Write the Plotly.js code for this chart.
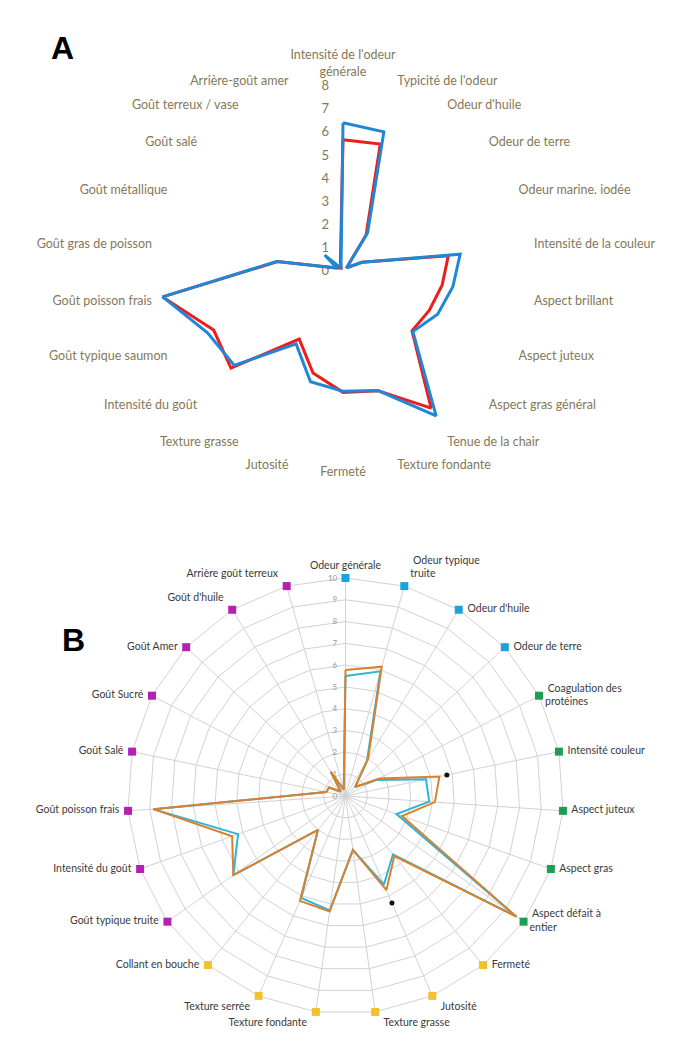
<!DOCTYPE html>
<html>
<head>
<meta charset="utf-8">
<script src="https://cdn.plot.ly/plotly-3.0.1.min.js"></script>
<style>html,body{margin:0;padding:0;background:#fff;}#chart{width:696px;height:1054px;}</style>
</head>
<body>
<div id="chart"></div>
<script>
// ---------- Chart A data ----------
const categoriesA = ["Intensité de l'odeur<br>générale", "Typicité de l'odeur", "Odeur d'huile", "Odeur de terre",
  "Odeur marine. iodée", "Intensité de la couleur", "Aspect brillant", "Aspect juteux", "Aspect gras général",
  "Tenue de la chair", "Texture fondante", "Fermeté", "Jutosité", "Texture grasse", "Intensité du goût",
  "Goût typique saumon", "Goût poisson frais", "Goût gras de poisson", "Goût métallique", "Goût salé",
  "Goût terreux / vase", "Arrière-goût amer"];
const redA  = [5.68, 5.72, 1.85, 0.2, 0.9, 4.6, 4.33, 4.1, 3.95, 7.05, 5.4, 5.25, 4.6, 3.5, 6.41, 6.15, 7.88, 2.85, 0.3, 0.2, 0.15, 0.4];
const blueA = [6.41, 6.27, 1.97, 0.2, 0.9, 5.12, 4.8, 4.5, 4.0, 7.45, 5.39, 5.2, 4.99, 3.75, 6.23, 6.44, 7.88, 2.9, 0.3, 1.05, 0.15, 0.3];
const radialTicksA = [0, 1, 2, 3, 4, 5, 6, 7, 8];

// ---------- Chart B data ----------
const categoriesB = ["Odeur générale", "Odeur typique<br>truite", "Odeur d'huile", "Odeur de terre",
  "Coagulation des<br>protéines", "Intensité couleur", "Aspect juteux", "Aspect gras", "Aspect défait à<br>entier",
  "Fermeté", "Jutosité", "Texture grasse", "Texture fondante", "Texture serrée", "Collant en bouche",
  "Goût typique truite", "Intensité du goût", "Goût poisson frais", "Goût Salé", "Goût Sucré", "Goût Amer",
  "Goût d'huile", "Arrière goût terreux"];
const groupB = ["odeur","odeur","odeur","odeur","aspect","aspect","aspect","aspect","aspect",
  "texture","texture","texture","texture","texture","texture",
  "gout","gout","gout","gout","gout","gout","gout","gout"];
const orangeB = [5.78, 6.16, 2.0, 0.6, 1.75, 4.4, 4.11, 2.75, 9.6, 3.55, 4.71, 2.5, 5.35, 5.25, 2.0, 6.3, 5.52, 8.84, 0.9, 0.85, 0.3, 1.3, 0.3];
const cyanB   = [5.5, 5.94, 1.9, 0.6, 1.6, 3.77, 3.85, 2.48, 9.6, 3.45, 4.43, 2.5, 5.3, 5.1, 2.0, 6.3, 5.23, 8.84, 0.9, 0.85, 0.3, 1.3, 0.3];
const scaleMaxB = 10;
const sigCatsB = ["Intensité couleur", "Jutosité"];
const sigR_B = [4.75, 5.35];

// ---------- styles ----------
const groupColors = {odeur: "#1ba1dc", aspect: "#1e9e55", texture: "#f2c12e", gout: "#b41fb4"};
const labelPosB = ["top center", "top right", "middle right", "middle right", "middle right", "middle right",
  "middle right", "middle right", "middle right", "middle right", "bottom right", "bottom right",
  "bottom left", "bottom left", "middle left", "middle left", "middle left", "middle left", "middle left",
  "middle left", "middle left", "top left", "top left"];

function closed(arr) { return arr.concat([arr[0]]); }

const tan = "#857858";
const traces = [
  {type: "scatterpolar", subplot: "polar", mode: "lines", r: closed(redA), theta: closed(categoriesA),
   line: {color: "#ee1c1c", width: 3}, hoverinfo: "skip"},
  {type: "scatterpolar", subplot: "polar", mode: "lines", r: closed(blueA), theta: closed(categoriesA),
   line: {color: "#1f87d6", width: 3}, hoverinfo: "skip"},

  {type: "scatterpolar", subplot: "polar2", mode: "lines", r: closed(cyanB), theta: closed(categoriesB),
   line: {color: "#2cb5d6", width: 2}, hoverinfo: "skip"},
  {type: "scatterpolar", subplot: "polar2", mode: "lines", r: closed(orangeB), theta: closed(categoriesB),
   line: {color: "#d9812f", width: 2}, hoverinfo: "skip"},
  {type: "scatterpolar", subplot: "polar2", mode: "markers+text", r: categoriesB.map(() => scaleMaxB),
   theta: categoriesB, text: categoriesB.map(c => " " + c + " "), textposition: labelPosB,
   textfont: {family: "Lato, 'Open Sans', sans-serif", size: 10.5, color: "#3a3a3a"},
   marker: {symbol: "square", size: 8, color: groupB.map(g => groupColors[g]), line: {width: 0}},
   cliponaxis: false, hoverinfo: "skip"},
  {type: "scatterpolar", subplot: "polar2", mode: "markers", r: sigR_B, theta: sigCatsB,
   marker: {color: "#111", size: 5}, cliponaxis: false, hoverinfo: "skip"}
];

const layout = {
  width: 696, height: 1054,
  margin: {l: 0, r: 0, t: 0, b: 0},
  paper_bgcolor: "#fff",
  showlegend: false,
  font: {family: "Lato, 'Open Sans', sans-serif"},
  polar: {
    domain: {x: [0.227, 0.7586], y: [0.5674, 0.9184]},
    bgcolor: "rgba(0,0,0,0)",
    radialaxis: {range: [0, 8], tickvals: radialTicksA, showgrid: false, showline: false,
      ticks: "outside", ticklen: 9, tickcolor: "rgba(0,0,0,0)",
      angle: 90, side: "counterclockwise", tickangle: 90, layer: "below traces",
      tickfont: {size: 13, color: tan, family: "Lato, sans-serif"}},
    angularaxis: {direction: "clockwise", rotation: 90, showgrid: false, showline: false,
      ticks: "outside", ticklen: 5, tickcolor: "rgba(0,0,0,0)", layer: "below traces",
      tickfont: {size: 12.5, color: tan, family: "Lato, sans-serif"}}
  },
  polar2: {
    domain: {x: [0.1832, 0.8096], y: [0.038, 0.4516]},
    bgcolor: "rgba(0,0,0,0)",
    gridshape: "linear",
    radialaxis: {range: [0, scaleMaxB], dtick: 1, showgrid: true, gridcolor: "#d2d2d2", gridwidth: 1,
      showline: true, linecolor: "#d2d2d2", ticks: "outside", ticklen: 5, tickcolor: "rgba(0,0,0,0)",
      angle: 90, side: "counterclockwise", tickangle: 90, layer: "below traces",
      tickfont: {size: 8, color: "#9a9a9a"}},
    angularaxis: {direction: "clockwise", rotation: 90, showgrid: true, gridcolor: "#d2d2d2",
      showline: true, linecolor: "#d2d2d2", ticks: "", showticklabels: false, layer: "below traces"}
  },
  annotations: [
    {text: "<b>A</b>", xref: "paper", yref: "paper", x: 62/696, y: 1 - 48/1054, xanchor: "center", yanchor: "middle",
     showarrow: false, font: {size: 32, color: "#000", family: "'Liberation Sans', Arial, sans-serif"}},
    {text: "<b>B</b>", xref: "paper", yref: "paper", x: 73/696, y: 1 - 640/1054, xanchor: "center", yanchor: "middle",
     showarrow: false, font: {size: 32, color: "#000", family: "'Liberation Sans', Arial, sans-serif"}}
  ]
};

Plotly.newPlot("chart", traces, layout, {staticPlot: true, displayModeBar: false});
</script>
</body>
</html>
